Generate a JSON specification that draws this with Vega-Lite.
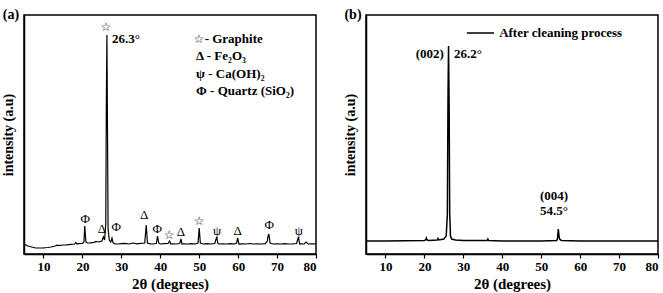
{
  "$schema": "https://vega.github.io/schema/vega-lite/v6.json",
  "padding": {"left": 0, "top": 7, "right": 9, "bottom": 0},
  "spacing": 22,
  "config": {
    "view": {"stroke": "#000000", "strokeWidth": 1.5},
    "font": "Liberation Serif, Times New Roman, DejaVu Serif, serif",
    "axis": {"grid": false, "domain": true, "domainColor": "#000000", "domainWidth": 1.5, "labelFont": "Liberation Serif, Times New Roman, DejaVu Serif, serif", "titleFont": "Liberation Serif, Times New Roman, DejaVu Serif, serif", "labelFontWeight": "bold", "titleFontWeight": "bold", "labelColor": "black", "titleColor": "black", "tickColor": "black", "tickWidth": 1.2},
    "text": {"font": "Liberation Serif, Times New Roman, DejaVu Serif, serif"}
  },
  "datasets": {
    "a": [
      {"t":5,"i":10},{"t":5.5,"i":9},{"t":6,"i":8},{"t":6.5,"i":7.5},{"t":7,"i":7},{"t":7.5,"i":6.5},{"t":8,"i":6},{"t":9,"i":6},{"t":10,"i":6.2},{"t":11,"i":6.5},{"t":12,"i":7},{"t":13,"i":8},{"t":13.5,"i":8.8},{"t":14,"i":8.3},{"t":15,"i":9},{"t":16,"i":9.2},{"t":17,"i":9.6},{"t":18,"i":10},{"t":18.3,"i":11.5},{"t":18.6,"i":10},{"t":19,"i":10.3},{"t":20,"i":10.6},{"t":20.4,"i":12},{"t":20.6,"i":28},{"t":20.9,"i":12},{"t":21.3,"i":11},{"t":22,"i":11.2},{"t":23,"i":11.6},{"t":23.5,"i":12.5},{"t":24,"i":12},{"t":24.5,"i":12.4},{"t":25,"i":13},{"t":25.4,"i":17},{"t":25.7,"i":14},{"t":26.0,"i":30},{"t":26.15,"i":150},{"t":26.3,"i":219},{"t":26.45,"i":120},{"t":26.6,"i":25},{"t":26.9,"i":14},{"t":27.3,"i":12},{"t":27.6,"i":16},{"t":27.9,"i":11},{"t":28.5,"i":10.2},{"t":29,"i":10},{"t":30,"i":10.4},{"t":31,"i":10.6},{"t":32,"i":10},{"t":33,"i":11},{"t":34,"i":10.2},{"t":35,"i":10.6},{"t":36,"i":11},{"t":36.2,"i":20},{"t":36.4,"i":29},{"t":36.7,"i":11},{"t":37.5,"i":10.2},{"t":38,"i":10},{"t":39,"i":10.5},{"t":39.3,"i":18},{"t":39.6,"i":11},{"t":40,"i":10},{"t":41,"i":10.3},{"t":42,"i":10.5},{"t":42.4,"i":13},{"t":42.7,"i":10},{"t":43,"i":10.2},{"t":44,"i":10},{"t":45,"i":10.5},{"t":45.3,"i":15},{"t":45.6,"i":10},{"t":46,"i":10.2},{"t":47,"i":10},{"t":48,"i":10.3},{"t":49,"i":10},{"t":49.7,"i":11},{"t":50.0,"i":26},{"t":50.3,"i":11},{"t":51,"i":10},{"t":52,"i":10.3},{"t":53,"i":10},{"t":54,"i":10.5},{"t":54.5,"i":17},{"t":54.8,"i":10.5},{"t":55,"i":10},{"t":56,"i":10.2},{"t":57,"i":10},{"t":58,"i":10.3},{"t":59,"i":10},{"t":59.6,"i":11},{"t":59.9,"i":16},{"t":60.2,"i":10},{"t":61,"i":10.2},{"t":62,"i":10},{"t":63,"i":10.5},{"t":64,"i":10},{"t":65,"i":10.2},{"t":66,"i":10},{"t":67,"i":10.3},{"t":67.5,"i":13},{"t":67.7,"i":18},{"t":67.9,"i":20},{"t":68.2,"i":11},{"t":69,"i":10},{"t":70,"i":10.2},{"t":71,"i":10},{"t":72,"i":10.3},{"t":73,"i":10},{"t":74,"i":10.2},{"t":75,"i":10.5},{"t":75.5,"i":17},{"t":75.8,"i":10},{"t":76,"i":10.2},{"t":77,"i":10},{"t":77.4,"i":12},{"t":78,"i":10},{"t":79,"i":10.2},{"t":80,"i":10}
    ],
    "b": [
      {"t":5,"i":13},{"t":10,"i":13},{"t":15,"i":13.2},{"t":20,"i":13.5},{"t":20.3,"i":14},{"t":20.5,"i":16},{"t":20.7,"i":14},{"t":21,"i":13.5},{"t":23.3,"i":14},{"t":23.5,"i":15.5},{"t":23.7,"i":14},{"t":25,"i":15},{"t":25.6,"i":18},{"t":25.9,"i":40},{"t":26.05,"i":150},{"t":26.2,"i":208},{"t":26.35,"i":150},{"t":26.5,"i":40},{"t":26.7,"i":18},{"t":27.0,"i":15},{"t":28,"i":14},{"t":30,"i":13.5},{"t":36.1,"i":13.5},{"t":36.3,"i":15},{"t":36.5,"i":13.5},{"t":40,"i":13},{"t":50,"i":13},{"t":54.0,"i":13.5},{"t":54.2,"i":16},{"t":54.4,"i":25},{"t":54.6,"i":17},{"t":54.8,"i":14.5},{"t":55.2,"i":13.5},{"t":60,"i":13},{"t":70,"i":13},{"t":80,"i":13}
    ],
    "asym": [
      {"t":20.75,"i":35,"s":"Φ"},{"t":25.0,"i":25,"s":"Δ"},{"t":28.7,"i":27,"s":"Φ"},{"t":35.9,"i":39,"s":"Δ"},{"t":39.2,"i":25,"s":"Φ"},{"t":45.3,"i":22,"s":"Δ"},{"t":54.6,"i":23,"s":"ψ"},{"t":59.9,"i":23,"s":"Δ"},{"t":68.0,"i":29,"s":"Φ"},{"t":75.6,"i":23,"s":"ψ"}
    ],
    "astar": [
      {"t":42.3,"i":19,"s":"☆"},{"t":50.0,"i":33,"s":"☆"},{"t":26.0,"i":227,"s":"☆"},{"t":49.9,"i":215,"s":"☆"}
    ],
    "alab": [
      {"t":27.6,"i":215,"s":"26.3°"},{"t":51.4,"i":215,"s":"- Graphite"},{"t":49.2,"i":198,"s":"Δ - Fe₂O₃"},{"t":49.2,"i":180,"s":"ψ - Ca(OH)₂"},{"t":49.2,"i":163,"s":"Φ - Quartz (SiO₂)"}
    ],
    "blab": [
      {"t":27.6,"i":200,"s":"26.2°"},{"t":39.2,"i":221,"s":"After cleaning process"}
    ],
    "bright": [
      {"t":25.0,"i":200,"s":"(002)"}
    ],
    "bcenter": [
      {"t":53.3,"i":58,"s":"(004)"},{"t":53.3,"i":43,"s":"54.5°"}
    ],
    "bleg": [{"t":30.9,"t2":37.9,"i":221}]
  },
  "hconcat": [
    {
      "width": 292, "height": 239,
      "layer": [
        {"data": {"name": "a"}, "mark": {"type": "line", "color": "black", "strokeWidth": 1.2},
         "encoding": {
           "x": {"field": "t", "type": "quantitative", "scale": {"domain": [5, 80], "nice": false, "zero": false}, "axis": {"values": [10,20,30,40,50,60,70,80], "title": "2θ (degrees)", "labelFontSize": 13, "titleFontSize": 15, "tickSize": 4, "labelPadding": 2, "titlePadding": 3}},
           "y": {"field": "i", "type": "quantitative", "scale": {"domain": [0, 239], "nice": false}, "axis": {"labels": false, "ticks": false, "title": "intensity (a.u)", "titleFontSize": 14, "titlePadding": 9}}
         }},
        {"data": {"name": "asym"}, "mark": {"type": "text", "fontSize": 13, "color": "black"},
         "encoding": {"x": {"field": "t", "type": "quantitative"}, "y": {"field": "i", "type": "quantitative"}, "text": {"field": "s"}}},
        {"data": {"name": "astar"}, "mark": {"type": "text", "fontSize": 12, "font": "DejaVu Sans", "color": "black"},
         "encoding": {"x": {"field": "t", "type": "quantitative"}, "y": {"field": "i", "type": "quantitative"}, "text": {"field": "s"}}},
        {"data": {"name": "alab"}, "mark": {"type": "text", "fontSize": 13, "fontWeight": "bold", "align": "left", "color": "black"},
         "encoding": {"x": {"field": "t", "type": "quantitative"}, "y": {"field": "i", "type": "quantitative"}, "text": {"field": "s"}}},
        {"data": {"values": [{"t": 5, "i": 239, "s": "(a)"}]}, "mark": {"type": "text", "fontSize": 14, "fontWeight": "bold", "dx": -13, "dy": 0, "color": "black"},
         "encoding": {"x": {"field": "t", "type": "quantitative"}, "y": {"field": "i", "type": "quantitative"}, "text": {"field": "s"}}}
      ]
    },
    {
      "width": 292, "height": 239,
      "layer": [
        {"data": {"name": "b"}, "mark": {"type": "line", "color": "black", "strokeWidth": 1.5},
         "encoding": {
           "x": {"field": "t", "type": "quantitative", "scale": {"domain": [5, 80], "nice": false, "zero": false}, "axis": {"values": [10,20,30,40,50,60,70,80], "title": "2θ (degrees)", "labelFontSize": 13, "titleFontSize": 15, "tickSize": 4, "labelPadding": 2, "titlePadding": 3}},
           "y": {"field": "i", "type": "quantitative", "scale": {"domain": [0, 239], "nice": false}, "axis": {"labels": false, "ticks": false, "title": "intensity (a.u)", "titleFontSize": 14, "titlePadding": 9}}
         }},
        {"data": {"name": "bleg"}, "mark": {"type": "rule", "color": "black", "strokeWidth": 1.5},
         "encoding": {"x": {"field": "t", "type": "quantitative"}, "x2": {"field": "t2"}, "y": {"field": "i", "type": "quantitative"}}},
        {"data": {"name": "blab"}, "mark": {"type": "text", "fontSize": 13, "fontWeight": "bold", "align": "left", "color": "black"},
         "encoding": {"x": {"field": "t", "type": "quantitative"}, "y": {"field": "i", "type": "quantitative"}, "text": {"field": "s"}}},
        {"data": {"name": "bright"}, "mark": {"type": "text", "fontSize": 13, "fontWeight": "bold", "align": "right", "color": "black"},
         "encoding": {"x": {"field": "t", "type": "quantitative"}, "y": {"field": "i", "type": "quantitative"}, "text": {"field": "s"}}},
        {"data": {"name": "bcenter"}, "mark": {"type": "text", "fontSize": 13, "fontWeight": "bold", "align": "center", "color": "black"},
         "encoding": {"x": {"field": "t", "type": "quantitative"}, "y": {"field": "i", "type": "quantitative"}, "text": {"field": "s"}}},
        {"data": {"values": [{"t": 5, "i": 239, "s": "(b)"}]}, "mark": {"type": "text", "fontSize": 14, "fontWeight": "bold", "dx": -13, "dy": 0, "color": "black"},
         "encoding": {"x": {"field": "t", "type": "quantitative"}, "y": {"field": "i", "type": "quantitative"}, "text": {"field": "s"}}}
      ]
    }
  ]
}
